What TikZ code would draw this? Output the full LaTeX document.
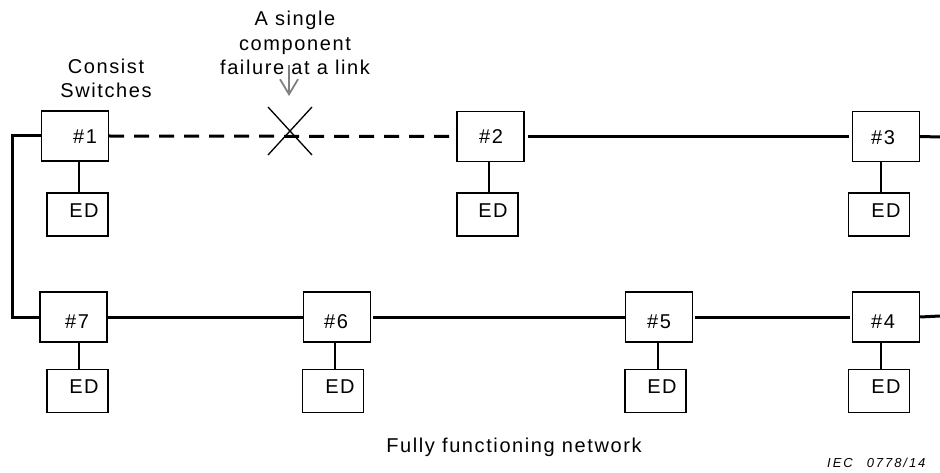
\documentclass[tikz,border=0pt]{standalone}
\usepackage{fontspec}
\setmainfont{Liberation Sans}[LetterSpace=8]
\newfontfamily\iecfont{Liberation Sans}[LetterSpace=15]
\usetikzlibrary{arrows.meta}
\begin{document}
\begin{tikzpicture}[x=1pt,y=-1pt,
  sw/.style={draw,line width=1.4pt,minimum width=67pt,minimum height=50pt,inner sep=0pt},
  ed/.style={draw,line width=1.4pt,minimum width=61pt,minimum height=43pt,inner sep=0pt},
  txt/.style={font=\fontsize{20}{24.5}\selectfont,inner sep=0pt},
  link/.style={line width=3pt},
  stub/.style={line width=1.3pt}]
\useasboundingbox (0,0) rectangle (940,473);
% switches
\node[sw] (s1) at (75,136) {};
\node[sw] (s2) at (490.5,136.5) {};
\node[sw] (s3) at (886,136.5) {};
\node[sw] (s7) at (73.5,317) {};
\node[sw] (s6) at (337,317) {};
\node[sw] (s5) at (659,317) {};
\node[sw] (s4) at (886,317) {};
% end devices
\node[ed] (e1) at (77.5,214.5) {};
\node[ed] (e2) at (487.5,214.5) {};
\node[ed] (e3) at (879,214.5) {};
\node[ed] (e7) at (77.5,391) {};
\node[ed] (e6) at (333,391) {};
\node[ed] (e5) at (655.5,391) {};
\node[ed] (e4) at (879,391) {};
% labels in boxes
\node[txt] at (85,137) {\#1};
\node[txt] at (491,137) {\#2};
\node[txt] at (883,138) {\#3};
\node[txt] at (77,322) {\#7};
\node[txt] at (336,322) {\#6};
\node[txt] at (659,322) {\#5};
\node[txt] at (883,322) {\#4};
\node[txt] at (84,211) {ED};
\node[txt] at (493,211) {ED};
\node[txt] at (886,211) {ED};
\node[txt] at (84,387) {ED};
\node[txt] at (340,387) {ED};
\node[txt] at (662,387) {ED};
\node[txt] at (886,387) {ED};
% stubs
\foreach \s/\e/\x in {s1/e1/79,s2/e2/489,s3/e3/881,s7/e7/79,s6/e6/335,s5/e5/658,s4/e4/881}{
  \draw[stub] (\x,0 |- \s.south) -- (\x,0 |- \e.north);
}
% links
\coordinate (tl) at (12,136);
\coordinate (bl) at (12,317);
\coordinate (tr) at (940,137);
\coordinate (br) at (940,316);
\draw[link] (s1.west) -- (tl) -- (bl) -- (s7.west);
\draw[link,dash pattern=on 15pt off 10pt] (s1.east) -- (s2.west);
\draw[link,shorten <=3pt,shorten >=3pt] (s2.east) -- (s3.west);
\draw[link] (s3.east) -- (tr);
\draw[link] (s7.east) -- (s6.west);
\draw[link,shorten <=2pt] (s6.east) -- (s5.west);
\draw[link,shorten <=2pt,shorten >=2pt] (s5.east) -- (s4.west);
\draw[link] (s4.east) -- (br);
% failure cross
\draw[line width=1.3pt] (268,107) -- (312,155);
\draw[line width=1.3pt] (268,155) -- (312,107);
% annotations
\node[txt,align=center] (fail) at (295,43) {A single\\component\\failure at a link};
\node[txt,align=center] (cs) at (106,78.5) {Consist\\Switches};
\coordinate (arrtop) at (289,65);
\coordinate (arrbot) at (289,96);
\draw[gray,line width=1.8pt,-{Straight Barb[length=15pt,width=18pt]}] (arrtop) -- (arrbot);
\node[txt] (cap) at (514,447) {Fully functioning network};
\node[font=\iecfont\fontsize{13}{15}\selectfont\itshape,inner sep=0pt,anchor=west] (iec) at (827,463) {IEC\hspace{14pt}0778/14};
\end{tikzpicture}
\end{document}
